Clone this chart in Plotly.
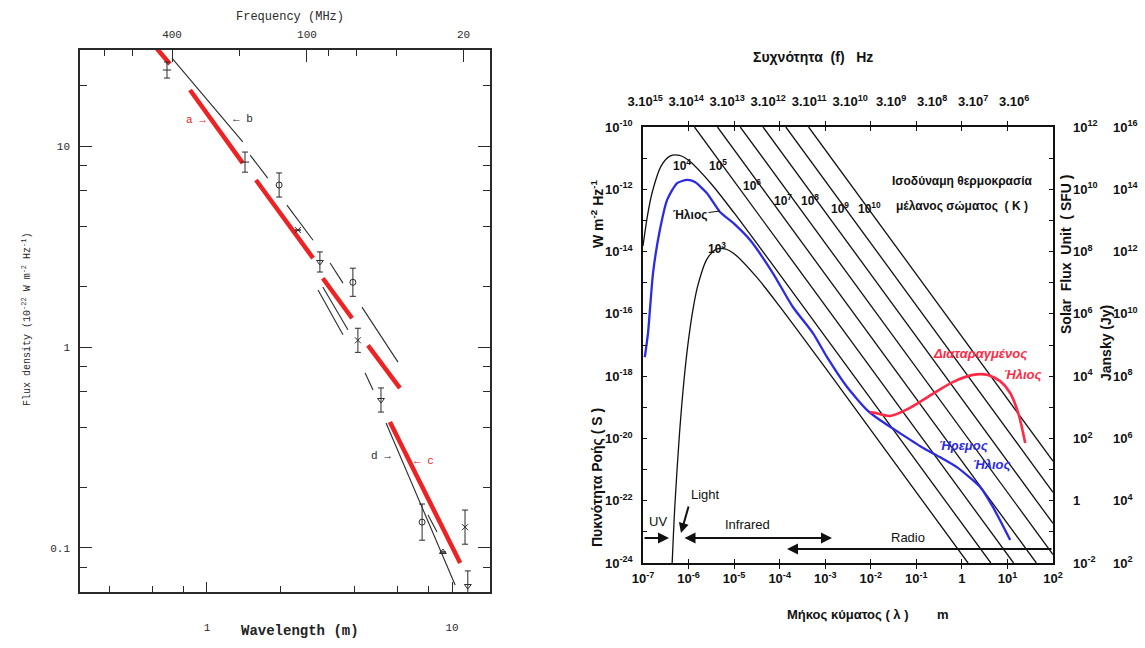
import numpy as np
import plotly.graph_objects as go

W, H = 1145, 648


def PX(x):
    return x / W


def PY(y):
    return 1 - y / H


# ======================= LEFT PANEL DATA =======================
# wavelength (m) / flux density (1e-22 W m^-2 Hz^-1) of line segments
left_red_lambda = [[0.613, 0.706], [0.853, 1.40], [1.585, 2.71], [2.97, 3.91], [4.54, 6.13], [5.58, 10.8]]
left_red_flux = [[31.4, 25.6], [19.0, 8.23], [6.78, 2.77], [2.20, 1.39], [1.02, 0.625], [0.424, 0.0841]]
left_black_lambda = [[0.720, 1.40], [1.50, 1.77], [2.12, 2.71], [3.18, 3.59], [4.29, 6.02],
                     [2.84, 3.59], [2.97, 3.76], [4.42, 4.76], [5.38, 10.3], [7.98, 8.69]]
left_black_flux = [[27.4, 10.5], [9.02, 6.93], [5.08, 3.40], [2.62, 2.08], [1.58, 0.841],
                   [1.92, 1.15], [1.99, 1.22], [0.743, 0.611], [0.419, 0.0655], [0.146, 0.120]]
meas_lambda = [0.687, 1.43, 1.97, 2.35, 2.89, 3.94, 4.13, 5.13, 7.55, 11.3, 9.18, 11.6]
meas_flux = [23.9, 8.32, 6.40, 3.82, 2.65, 2.10, 1.08, 0.545, 0.1345, 0.127, 0.0955, 0.0647]
meas_err_dex = [0.04, 0.05, 0.06, 0.0, 0.05, 0.07, 0.06, 0.06, 0.09, 0.085, 0.0, 0.075]
meas_symbol = ['line-ew-open', 'line-ew-open', 'circle-open', 'x-thin-open', 'triangle-down-open',
               'circle-open', 'x-thin-open', 'triangle-down-open', 'circle-open', 'x-thin-open',
               'triangle-up-open', 'triangle-down-open']

wl_major = [1, 10]
wl_major_text = ['1', '10']
wl_minor = [0.4, 0.6, 0.8, 2, 4, 6, 8]
freq_mhz_major = [400, 100, 20]
freq_mhz_major_text = ['400', '100', '20']
freq_mhz_minor = [800, 600, 200, 80, 60, 40]
flux_major = [0.1, 1, 10]
flux_major_text = ['0.1', '1', '10']
flux_minor = [0.08, 0.2, 0.4, 0.6, 0.8, 2, 4, 6, 8, 20]

# ======================= RIGHT PANEL DATA =======================
# log10 wavelength (m) / log10 flux density (W m^-2 Hz^-1)
bb3_loglam = [-6.36, -6.3, -6.2, -6.1, -6.0, -5.9, -5.8, -5.6, -5.4, -5.2, -5.0, -4.5, -4.0, -3.0, 0.135]
bb3_logS = [-24.0, -22.14, -19.87, -18.13, -16.82, -15.83, -15.11, -14.25, -13.93, -13.91, -14.07, -14.83, -15.76, -17.73, -24.0]
bb4_loglam = [-7.0, -6.9, -6.8, -6.6, -6.4, -6.2, -6.0, -5.5, -5.0, -4.5, -4.0, -2.0, 0.635]
bb4_logS = [-13.82, -12.83, -12.11, -11.25, -10.93, -10.91, -11.07, -11.83, -12.76, -13.74, -14.73, -18.73, -24.0]
rj_start_loglam = [-5.87, -5.365, -4.865, -4.365, -3.865, -3.365]
rj_start_logS = [-10.0, -10.0, -10.0, -10.0, -10.0, -10.0]
rj_end_loglam = [1.135, 1.635, 2.0, 2.0, 2.0, 2.0]
rj_end_logS = [-24.0, -24.0, -23.73, -22.73, -21.73, -20.73]

quiet_sun_loglam = [-6.96, -6.89, -6.78, -6.63, -6.47, -6.25, -6.03, -5.86, -5.60, -5.31, -5.02, -4.65, -4.15,
                    -3.71, -3.27, -2.96, -2.52, -2.08, -1.80, -1.36, -0.85, -0.48, -0.11, 0.40, 0.68, 1.06]
quiet_sun_logS = [-17.39, -16.62, -14.69, -13.31, -12.34, -11.80, -11.70, -11.77, -12.12, -12.73, -13.08, -13.63,
                  -14.69, -15.78, -16.62, -17.39, -18.35, -19.09, -19.41, -19.83, -20.31, -20.60, -20.92, -21.56,
                  -22.20, -23.26]
active_sun_loglam = [-2.02, -1.91, -1.58, -1.14, -0.64, -0.20, 0.24, 0.57, 0.84, 1.06, 1.25, 1.39]
active_sun_logS = [-19.15, -19.18, -19.28, -19.02, -18.57, -18.19, -17.96, -17.96, -18.16, -18.54, -19.25, -20.15]

lam_tick_vals = [1e-7, 1e-6, 1e-5, 1e-4, 1e-3, 1e-2, 1e-1, 1, 10, 100]
lam_tick_text = ['10<sup>-7</sup>', '10<sup>-6</sup>', '10<sup>-5</sup>', '10<sup>-4</sup>', '10<sup>-3</sup>',
                 '10<sup>-2</sup>', '10<sup>-1</sup>', '1', '10<sup>1</sup>', '10<sup>2</sup>']
fhz_tick_vals = [3e15, 3e14, 3e13, 3e12, 3e11, 3e10, 3e9, 3e8, 3e7, 3e6]
fhz_tick_text = ['3.10<sup>15</sup>', '3.10<sup>14</sup>', '3.10<sup>13</sup>', '3.10<sup>12</sup>',
                 '3.10<sup>11</sup>', '3.10<sup>10</sup>', '3.10<sup>9</sup>', '3.10<sup>8</sup>',
                 '3.10<sup>7</sup>', '3.10<sup>6</sup>']
S_tick_vals = [1e-24, 1e-22, 1e-20, 1e-18, 1e-16, 1e-14, 1e-12, 1e-10]
S_tick_text = ['10<sup>-24</sup>', '10<sup>-22</sup>', '10<sup>-20</sup>', '10<sup>-18</sup>',
               '10<sup>-16</sup>', '10<sup>-14</sup>', '10<sup>-12</sup>', '10<sup>-10</sup>']
S_minor_vals = [1e-23, 1e-21, 1e-19, 1e-17, 1e-15, 1e-13, 1e-11]
sfu_tick_vals = [1e-2, 1, 1e2, 1e4, 1e6, 1e8, 1e10, 1e12]
sfu_tick_text = ['10<sup>-2</sup>', '1', '10<sup>2</sup>', '10<sup>4</sup>', '10<sup>6</sup>',
                 '10<sup>8</sup>', '10<sup>10</sup>', '10<sup>12</sup>']
jy_tick_vals = [1e2, 1e4, 1e6, 1e8, 1e10, 1e12, 1e14, 1e16]
jy_tick_text = ['10<sup>2</sup>', '10<sup>4</sup>', '10<sup>6</sup>', '10<sup>8</sup>', '10<sup>10</sup>',
                '10<sup>12</sup>', '10<sup>14</sup>', '10<sup>16</sup>']

T_label_text = ['10<sup>3</sup>', '10<sup>4</sup>', '10<sup>5</sup>', '10<sup>6</sup>', '10<sup>7</sup>',
                '10<sup>8</sup>', '10<sup>9</sup>', '10<sup>10</sup>']
T_label_px = [(717, 248), (682, 165), (718, 165), (752, 185), (783, 200), (810, 200), (840, 208), (869, 208)]

# ======================= STYLE =======================
MONO = 'Liberation Mono, DejaVu Sans Mono, monospace'
SANS = 'Liberation Sans, Arial, sans-serif'
INK = '#2a2a2a'
BLK = '#111111'
RED_L = '#ee2222'
RED_R = '#ff2a45'
BLUE = '#2b2be6'


def joined(segs):
    out = []
    for s in segs:
        out += list(s) + [None]
    return out


fig = go.Figure()

# ----- left panel traces -----
fig.add_trace(go.Scatter(x=joined(left_black_lambda), y=joined(left_black_flux), mode='lines',
                         line=dict(color=INK, width=1.1), xaxis='x', yaxis='y'))
fig.add_trace(go.Scatter(x=joined(left_red_lambda), y=joined(left_red_flux), mode='lines',
                         line=dict(color=RED_L, width=4.5), xaxis='x', yaxis='y'))
mf = np.array(meas_flux)
md = np.array(meas_err_dex)
fig.add_trace(go.Scatter(
    x=meas_lambda, y=meas_flux, mode='markers', xaxis='x', yaxis='y',
    marker=dict(symbol=meas_symbol, size=6, color=INK, line=dict(color=INK, width=1)),
    error_y=dict(type='data', symmetric=False, array=mf * (10 ** md - 1), arrayminus=mf * (1 - 10 ** -md),
                 thickness=1, width=3, color=INK)))
fig.add_trace(go.Scatter(x=freq_mhz_major, y=[None] * len(freq_mhz_major), mode='markers',
                         xaxis='x2', yaxis='y', hoverinfo='skip'))

# ----- right panel traces -----
fig.add_trace(go.Scatter(x=10 ** np.array(bb3_loglam), y=10 ** np.array(bb3_logS), mode='lines',
                         line=dict(color=BLK, width=1.3, shape='spline', smoothing=0.8), xaxis='x3', yaxis='y3'))
fig.add_trace(go.Scatter(x=10 ** np.array(bb4_loglam), y=10 ** np.array(bb4_logS), mode='lines',
                         line=dict(color=BLK, width=1.3, shape='spline', smoothing=0.8), xaxis='x3', yaxis='y3'))
for a, b, c, d in zip(rj_start_loglam, rj_start_logS, rj_end_loglam, rj_end_logS):
    fig.add_trace(go.Scatter(x=[10 ** a, 10 ** c], y=[10 ** b, 10 ** d], mode='lines',
                             line=dict(color=BLK, width=1.3), xaxis='x3', yaxis='y3'))
fig.add_trace(go.Scatter(x=10 ** np.array(quiet_sun_loglam), y=10 ** np.array(quiet_sun_logS), mode='lines',
                         line=dict(color=BLUE, width=2.3, shape='spline', smoothing=0.6), xaxis='x3', yaxis='y3'))
fig.add_trace(go.Scatter(x=10 ** np.array(active_sun_loglam), y=10 ** np.array(active_sun_logS), mode='lines',
                         line=dict(color=RED_R, width=2.6, shape='spline', smoothing=0.8), xaxis='x3', yaxis='y3'))
fig.add_trace(go.Scatter(x=fhz_tick_vals, y=[None] * len(fhz_tick_vals), mode='markers',
                         xaxis='x4', yaxis='y3', hoverinfo='skip'))
fig.add_trace(go.Scatter(x=lam_tick_vals, y=[None] * len(lam_tick_vals), mode='markers',
                         xaxis='x3', yaxis='y4', hoverinfo='skip'))
fig.add_trace(go.Scatter(x=lam_tick_vals, y=[None] * len(lam_tick_vals), mode='markers',
                         xaxis='x3', yaxis='y5', hoverinfo='skip'))

# ----- axes -----
L_dom_x = [PX(80), PX(490)]
L_dom_y = [PY(592), PY(50)]
R_dom_x = [PX(643), PX(1053)]
R_dom_y = [PY(563), PY(127)]

lfont = dict(family=MONO, size=11, color=INK)
rfont = dict(family=SANS, size=13, color=BLK, weight='bold')

fig.update_layout(
    width=W, height=H, margin=dict(l=0, r=0, t=0, b=0, autoexpand=False),
    paper_bgcolor='white', plot_bgcolor='white', showlegend=False, hovermode=False,
    xaxis=dict(domain=L_dom_x, anchor='y', type='log', range=[-0.518, 1.155], automargin=False,
               tickmode='array', tickvals=wl_major, ticktext=wl_major_text, ticks='inside', ticklen=10,
               tickcolor=INK, showline=True, linecolor=INK, linewidth=1.5, mirror=False,
               showgrid=False, zeroline=False, tickfont=lfont, ticklabelstandoff=24,
               minor=dict(tickmode='array', tickvals=wl_minor, ticks='inside', ticklen=6, tickcolor=INK)),
    xaxis2=dict(overlaying='x', anchor='y', side='top', type='log', range=[3.013, 1.183], automargin=False,
                tickmode='array', tickvals=freq_mhz_major, ticktext=freq_mhz_major_text, ticks='inside',
                ticklen=12, tickcolor=INK, showline=True, linecolor=INK, linewidth=1.5, showgrid=False,
                zeroline=False, tickfont=lfont, ticklabelstandoff=6,
                minor=dict(tickmode='array', tickvals=freq_mhz_minor, ticks='inside', ticklen=6, tickcolor=INK)),
    yaxis=dict(domain=L_dom_y, anchor='x', type='log', range=[-1.219, 1.478], automargin=False,
               tickmode='array', tickvals=flux_major, ticktext=flux_major_text, ticks='inside', ticklen=12,
               tickcolor=INK, showline=True, linecolor=INK, linewidth=1.5, mirror='ticks',
               showgrid=False, zeroline=False, tickfont=lfont, ticklabelstandoff=6,
               minor=dict(tickmode='array', tickvals=flux_minor, ticks='inside', ticklen=7, tickcolor=INK)),
    xaxis3=dict(domain=R_dom_x, anchor='y3', type='log', range=[-7, 2], automargin=False,
                tickmode='array', tickvals=lam_tick_vals, ticktext=lam_tick_text, ticks='inside', ticklen=4,
                tickcolor=BLK, showline=True, linecolor=BLK, linewidth=1.6, mirror='allticks',
                showgrid=False, zeroline=False, tickfont=rfont, ticklabelstandoff=3),
    xaxis4=dict(overlaying='x3', anchor='y3', side='top', type='log', range=[15.53, 5.53], automargin=False,
                tickmode='array', tickvals=fhz_tick_vals, ticktext=fhz_tick_text, ticks='',
                showline=False, showgrid=False, zeroline=False, tickfont=rfont, ticklabelstandoff=17),
    yaxis3=dict(domain=R_dom_y, anchor='x3', type='log', range=[-24, -10], automargin=False,
                tickmode='array', tickvals=S_tick_vals, ticktext=S_tick_text, ticks='inside', ticklen=4,
                tickcolor=BLK, showline=True, linecolor=BLK, linewidth=1.6, mirror='allticks',
                showgrid=False, zeroline=False, tickfont=rfont, ticklabelstandoff=6,
                minor=dict(tickmode='array', tickvals=S_minor_vals, ticks='inside', ticklen=3, tickcolor=BLK)),
    yaxis4=dict(overlaying='y3', anchor='free', position=PX(1072), side='right', type='log', range=[-2, 12],
                automargin=False, tickmode='array', tickvals=sfu_tick_vals, ticktext=sfu_tick_text, ticks='',
                showline=False, showgrid=False, zeroline=False, tickfont=rfont),
    yaxis5=dict(overlaying='y3', anchor='free', position=PX(1112), side='right', type='log', range=[2, 16],
                automargin=False, tickmode='array', tickvals=jy_tick_vals, ticktext=jy_tick_text, ticks='',
                showline=False, showgrid=False, zeroline=False, tickfont=rfont),
)

ann = []


def txt(x, y, t, size, color=BLK, family=SANS, angle=0, weight='normal', xanchor='center'):
    ann.append(dict(x=PX(x), y=PY(y), xref='paper', yref='paper', text=t, showarrow=False,
                    textangle=angle, xanchor=xanchor, yanchor='middle',
                    font=dict(family=family, size=size, color=color, weight=weight)))


def arrow(x, y, ax, ay, width=2.2, head=2, side='end', size=1.0):
    ann.append(dict(x=PX(x), y=PY(y), xref='paper', yref='paper', text='', showarrow=True,
                    ax=ax, ay=ay, arrowhead=head, arrowwidth=width, arrowsize=size, arrowside=side,
                    arrowcolor=BLK, startarrowhead=head, startarrowsize=size))


# ----- left panel texts -----
txt(290, 17, 'Frequency (MHz)', 12, INK, MONO)
txt(300, 631, 'Wavelength (m)', 14, '#222222', MONO, weight='bold')
txt(26, 320, 'Flux density (10<sup>-22</sup> W m<sup>-2</sup> Hz<sup>-1</sup>)', 10, INK, MONO, angle=-90)
txt(196, 120, 'a \u2192', 11, RED_L, MONO)
txt(243, 119, '\u2190 b', 11, INK, MONO)
txt(381, 456, 'd \u2192', 11, INK, MONO)
txt(424, 461, '\u2190 c', 11, RED_L, MONO)

# ----- right panel texts -----
txt(813, 57, 'Συχνότητα  (f)   Hz', 14, weight='bold')
txt(848, 614, 'Μήκος κύματος ( λ )', 13, weight='bold')
txt(943, 614, 'm', 13, weight='bold')
txt(597, 478, 'Πυκνότητα Ροής ( S )', 14, angle=-90, weight='bold')
txt(597, 214, 'W m<sup>-2</sup> Hz<sup>-1</sup>', 14, angle=-90, weight='bold')
txt(1066, 255, 'Solar  Flux  Unit  ( SFU )', 14, angle=-90, weight='bold')
txt(1106, 343, 'Jansky (Jy)', 14, angle=-90, weight='bold')
txt(962, 181, 'Ισοδύναμη θερμοκρασία', 12, weight='bold')
txt(962, 206, 'μέλανος σώματος  ( K )', 12, weight='bold')
for t, (x, y) in zip(T_label_text, T_label_px):
    txt(x, y, t, 12, weight='bold')
txt(980, 353, '<i>Διαταραγμένος</i>', 13, RED_R, weight='bold')
txt(1023, 374, '<i>Ήλιος</i>', 13, RED_R, weight='bold')
txt(963, 445, '<i>Ήρεμος</i>', 13, BLUE, weight='bold')
txt(992, 464, '<i>Ήλιος</i>', 13, BLUE, weight='bold')
txt(658, 521, 'UV', 13)
txt(706, 495, 'Light', 13)
txt(748, 524, 'Infrared', 13)
txt(908, 537, 'Radio', 13)
ann.append(dict(x=PX(720), y=PY(211), xref='paper', yref='paper', text='<b>Ήλιος</b>', showarrow=True,
                ax=-30, ay=4, arrowhead=0, arrowwidth=1, arrowcolor=BLK,
                font=dict(family=SANS, size=12, color=BLK)))

# spectral range arrows
arrow(669, 538, -26, 0)
arrow(832, 538, -149, 0, side='end+start')
arrow(787, 549, 266, 0)
arrow(681, 533, 8, -28, width=2)

fig.update_layout(annotations=ann)
fig.write_html('out.html')
